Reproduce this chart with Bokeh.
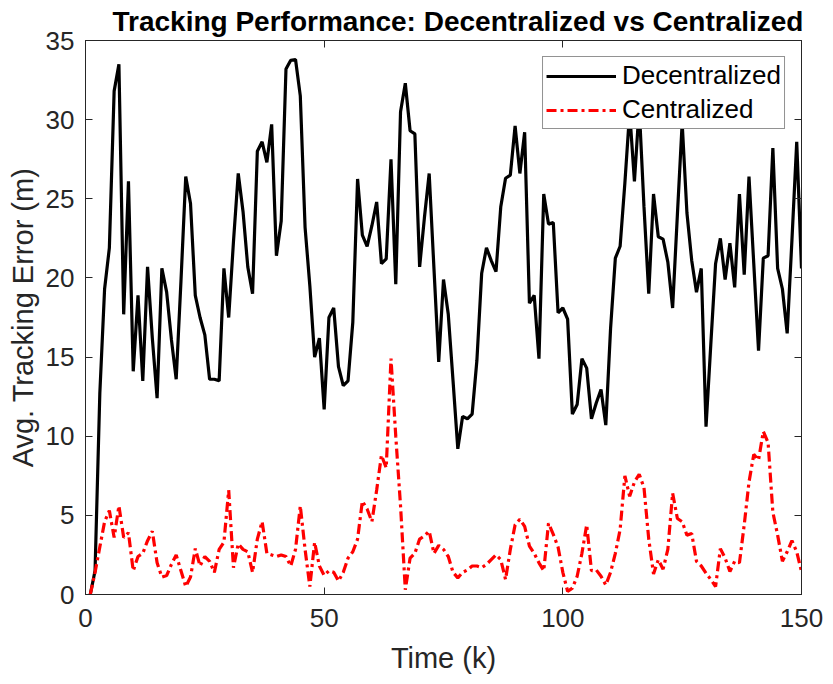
from bokeh.plotting import figure
from bokeh.models import LinearAxis, Range1d, FixedTicker, ColumnDataSource
from bokeh.embed import file_html
from bokeh.resources import INLINE

time_k = list(range(1, 151))

decentralized = [
    0.0, 1.5, 12.7, 19.3, 21.9, 31.8, 33.5, 17.7, 26.1, 14.1,
    18.9, 13.5, 20.7, 16.2, 12.4, 20.6, 19.1, 16.1, 13.6, 19.8,
    26.4, 24.7, 18.9, 17.5, 16.4, 13.6, 13.6, 13.5, 20.6, 17.5,
    22.3, 26.6, 24.2, 20.7, 19.0, 28.0, 28.6, 27.3, 29.7, 21.4,
    23.6, 33.2, 33.75, 33.8, 31.5, 23.2, 19.5, 15.0, 16.2, 11.7,
    17.5, 18.1, 14.4, 13.2, 13.5, 17.2, 26.25, 22.7, 22.0, 23.3,
    24.8, 20.9, 21.2, 27.5, 19.6, 30.5, 32.3, 29.3, 29.1, 20.7,
    23.8, 26.6, 20.6, 14.7, 19.9, 17.7, 13.5, 9.2, 11.25, 11.1,
    11.4, 14.8, 20.3, 21.9, 21.1, 20.4, 24.5, 26.3, 26.5, 29.6,
    26.6, 29.2, 18.4, 18.9, 14.9, 25.3, 23.4, 23.5, 17.8, 18.1,
    17.4, 11.4, 12.0, 14.9, 14.3, 11.1, 12.1, 12.95, 10.7, 16.8,
    21.25, 22.0, 26.0, 30.5, 26.1, 30.8, 24.5, 19.0, 25.3, 22.6,
    22.45, 21.0, 18.1, 24.0, 29.8, 24.1, 21.1, 19.1, 20.6, 10.6,
    15.8, 20.9, 22.5, 19.9, 22.2, 19.4, 25.3, 20.2, 26.4, 20.9,
    15.4, 21.25, 21.4, 28.2, 20.6, 19.3, 16.5, 22.4, 28.6, 20.6,
]

centralized = [
    0.0, 1.4, 3.0, 4.6, 5.3, 3.6, 5.6, 3.6, 3.9, 1.5,
    2.4, 2.6, 3.4, 4.0, 2.0, 1.1, 1.2, 1.9, 2.5, 1.5,
    0.5, 1.1, 2.9, 1.8, 2.4, 2.1, 1.4, 2.85, 3.3, 6.6,
    1.7, 3.2, 2.85, 2.7, 1.4, 3.5, 4.6, 2.6, 2.5, 2.4,
    2.5, 2.4, 1.8, 2.85, 5.6, 2.85, 0.5, 3.3, 1.8, 1.2,
    1.5, 1.4, 0.85, 1.4, 2.3, 2.7, 3.5, 5.9, 5.4, 4.6,
    6.6, 8.8, 8.0, 14.9, 10.0, 5.6, 0.3, 2.3, 2.6, 3.5,
    3.7, 4.0, 2.6, 3.1, 2.85, 2.4, 1.4, 1.05, 1.4, 1.55,
    1.8, 1.8, 1.7, 1.9, 2.2, 2.5, 2.2, 0.95, 2.85, 4.4,
    4.75, 4.3, 3.06, 2.6, 2.0, 1.5, 4.5, 3.8, 3.0, 1.4,
    0.2, 0.4, 1.15, 2.6, 4.4, 1.5, 1.55, 1.15, 0.6, 1.4,
    2.6, 4.1, 7.5, 6.2, 7.1, 7.6, 6.75, 3.5, 1.3, 2.2,
    1.6, 2.85, 6.4, 4.8, 4.6, 3.75, 3.85, 2.1, 1.8, 1.35,
    0.95, 0.5, 2.9, 2.3, 1.45, 2.1, 2.0, 4.4, 7.1, 8.85,
    8.5, 10.3, 9.6, 5.2, 3.75, 2.1, 2.7, 3.4, 2.7, 1.45,
]

x_ticks = [0, 50, 100, 150]
y_ticks = [0, 5, 10, 15, 20, 25, 30, 35]

FONT = "Liberation Sans"
AX = "#262626"

src = ColumnDataSource(dict(t=time_k, dec=decentralized, cen=centralized))

p = figure(width=825, height=676, output_backend="svg", toolbar_location=None,
           x_range=Range1d(0, 150), y_range=Range1d(0, 35),
           min_border_left=85, min_border_right=24, min_border_top=10,
           min_border_bottom=79)

p.title.text = "Tracking Performance: Decentralized vs Centralized"
p.title.text_font = FONT
p.title.text_font_size = "28px"
p.title.text_font_style = "bold"
p.title.text_color = "#000000"
p.title.align = "left"
p.title.offset = 27
p.title.standoff = 7

p.line("t", "dec", source=src, line_color="black", line_width=3.2,
       legend_label="Decentralized")
p.line("t", "cen", source=src, line_color="red", line_width=3.2,
       line_dash="10 4 3 4", legend_label="Centralized")

p.grid.visible = False
p.outline_line_color = AX
p.outline_line_width = 1
p.background_fill_color = "white"
p.border_fill_color = "white"

def style_axis(ax, labels=True):
    ax.axis_line_color = AX
    ax.major_tick_line_color = AX
    ax.minor_tick_line_color = None
    ax.major_tick_in = 7
    ax.major_tick_out = 0
    ax.major_label_text_font = FONT
    ax.axis_label_text_font = FONT
    ax.axis_label_text_color = AX
    ax.axis_label_text_font_style = "normal"
    if labels:
        ax.major_label_text_color = AX
        ax.major_label_text_font_size = "26px"
        ax.axis_label_text_font_size = "29px"
    else:
        ax.major_label_text_color = None
        ax.major_label_text_font_size = "1px"
        ax.major_label_standoff = 0

p.xaxis.ticker = FixedTicker(ticks=x_ticks)
p.yaxis.ticker = FixedTicker(ticks=y_ticks)
p.xaxis.axis_label = "Time (k)"
p.yaxis.axis_label = "Avg. Tracking Error (m)"
style_axis(p.xaxis[0])
style_axis(p.yaxis[0])
p.xaxis.major_label_standoff = 14
p.yaxis.major_label_standoff = 11
p.xaxis.axis_label_standoff = 12
p.yaxis.axis_label_standoff = 4

top_ax = LinearAxis(ticker=FixedTicker(ticks=x_ticks))
right_ax = LinearAxis(ticker=FixedTicker(ticks=y_ticks))
style_axis(top_ax, labels=False)
style_axis(right_ax, labels=False)
p.add_layout(top_ax, "above")
p.add_layout(right_ax, "right")

lg = p.legend[0]
lg.location = "top_right"
lg.margin = 16
lg.label_text_font = FONT
lg.label_text_font_size = "26px"
lg.label_text_color = "#000000"
lg.glyph_width = 70
lg.glyph_height = 20
lg.spacing = 3
lg.padding = 3
lg.label_standoff = 6
lg.border_line_color = AX
lg.border_line_width = 1
lg.background_fill_alpha = 1.0

open("out.html", "w").write(file_html(p, INLINE))
